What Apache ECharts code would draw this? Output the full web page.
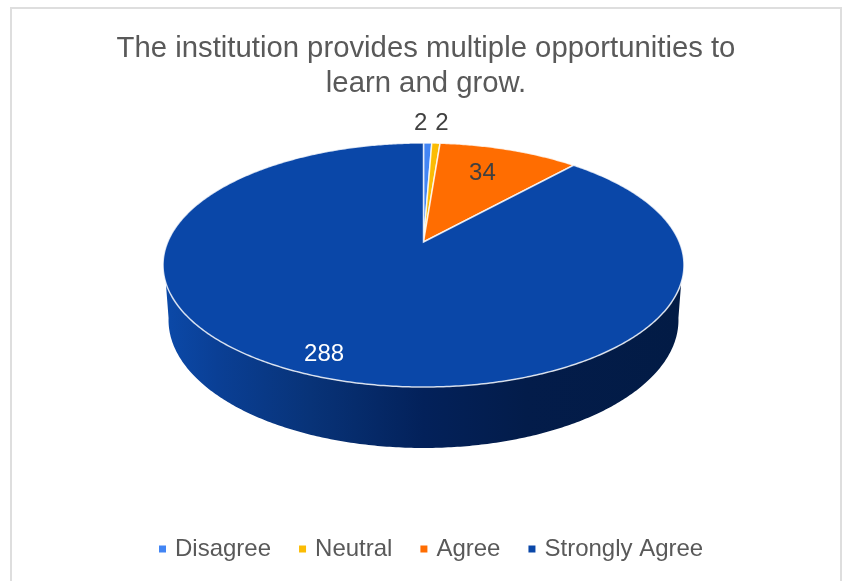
<!DOCTYPE html>
<html><head><meta charset="utf-8">
<style>html,body{margin:0;padding:0;background:#fff}#c{width:845px;height:581px}</style>
<script src="https://cdn.jsdelivr.net/npm/echarts@6/dist/echarts.min.js"></script>
</head><body><div id="c"></div>
<script>
const categories = ['Disagree', 'Neutral', 'Agree', 'Strongly Agree'];
const values = [2, 2, 34, 288];
const colors = ['#4285f4', '#fbbc04', '#ff6d01', '#0a47a8'];
const titleLines = ['The institution provides multiple opportunities to', 'learn and grow.'];

// perspective disc layout
const P = 0.1885, CX = 423.5;
const TOP = {ay: 242, sx: 255.8, sy: 117.7};
const BASE = {ay: 295.9, sx: 250.4, sy: 123.4};
const WALL_FROM = 109 * Math.PI / 180, WALL_TO = 251 * Math.PI / 180, WALL_EXT = 9 * Math.PI / 180;
const total = values.reduce((a, b) => a + b, 0);
const starts = values.map((_, i) => values.slice(0, i).reduce((a, b) => a + b, 0) / total * 2 * Math.PI);
const ends = values.map((_, i) => starts[i] + values[i] / total * 2 * Math.PI);
function proj(t, r, d) {
  const X = Math.sin(t) * r, Y = Math.cos(t) * r, w = 1 + P * Y;
  return [CX + d.sx * X / w, d.ay - d.sy * Y / w];
}
function arc(a, b, d) {
  const n = Math.max(2, Math.ceil((b - a) / 0.01)), out = [];
  for (let k = 0; k <= n; k++) out.push(proj(a + (b - a) * k / n, 1, d));
  return out;
}
// label placement: radial fraction and pixel nudge per slice
const labelPlace = [[1, -7, -20], [1, 6, -20], [0.7, -4, -1], [0.88, -4, -2]];
const labelColor = ['#404040', '#404040', '#404040', '#ffffff'];

function wall(i) {
  const a = Math.max(starts[i], WALL_FROM), b = Math.min(ends[i], WALL_TO);
  if (b <= a) return null;
  const a2 = a === WALL_FROM ? a - WALL_EXT : a, b2 = b === WALL_TO ? b + WALL_EXT : b;
  return {
    type: 'polygon',
    shape: {points: arc(a, b, TOP).concat(arc(a2, b2, BASE).reverse())},
    style: {fill: new echarts.graphic.LinearGradient(1, 0, 0, 0, [
      {offset: 0, color: '#021b45'}, {offset: 0.3, color: '#031c4a'}, {offset: 0.5, color: '#03215a'},
      {offset: 0.72, color: '#083378'}, {offset: 0.9, color: '#0a3f95'}, {offset: 1, color: '#0b49a8'}
    ]), stroke: null}
  };
}
const series = [{
  type: 'custom', name: 'wall', coordinateSystem: 'none', silent: true, z: 1,
  data: values.map((v) => [v]),
  renderItem: (p) => wall(p.dataIndex) || {type: 'group', children: []}
}].concat(categories.map((name, i) => ({
  type: 'custom', name, coordinateSystem: 'none', z: 2 + i, silent: true,
  itemStyle: {color: colors[i]},
  data: [[values[i]]],
  renderItem: () => {
    const pl = labelPlace[i], pos = proj((starts[i] + ends[i]) / 2, pl[0], TOP);
    return {type: 'group', children: [
      {type: 'polygon',
       shape: {points: [[CX, TOP.ay]].concat(arc(starts[i], ends[i], TOP))},
       style: {fill: colors[i], stroke: 'rgba(255,255,255,0.8)', lineWidth: 1.5}},
      {type: 'text', z2: 10,
       style: {x: pos[0] + pl[1], y: pos[1] + pl[2], text: String(values[i]), fill: labelColor[i],
               font: '24px "Liberation Sans"', align: 'center', verticalAlign: 'middle'}}
    ]};
  }
})));
const chart = echarts.init(document.getElementById('c'), null, {renderer: 'canvas'});
chart.setOption({
  animation: false,
  backgroundColor: '#fff',
  title: {text: titleLines.join('\n'), left: 421, textAlign: 'center', top: 26, itemGap: 0,
    textStyle: {fontFamily: 'Liberation Sans', fontSize: 29.3, fontWeight: 'normal', color: '#595959', lineHeight: 35}},
  legend: {data: categories, bottom: 15, left: 154, icon: 'rect', itemWidth: 7, itemHeight: 7,
    itemGap: 28, selectedMode: false,
    textStyle: {fontFamily: 'Liberation Sans', fontSize: 24, color: '#595959', padding: [0, 0, 0, 4]}},
  graphic: [{type: 'rect', z: -1, silent: true, shape: {x: 11, y: 8, width: 830, height: 590},
    style: {fill: '#fff', stroke: '#dedede', lineWidth: 2}}],
  series
});
</script></body></html>
